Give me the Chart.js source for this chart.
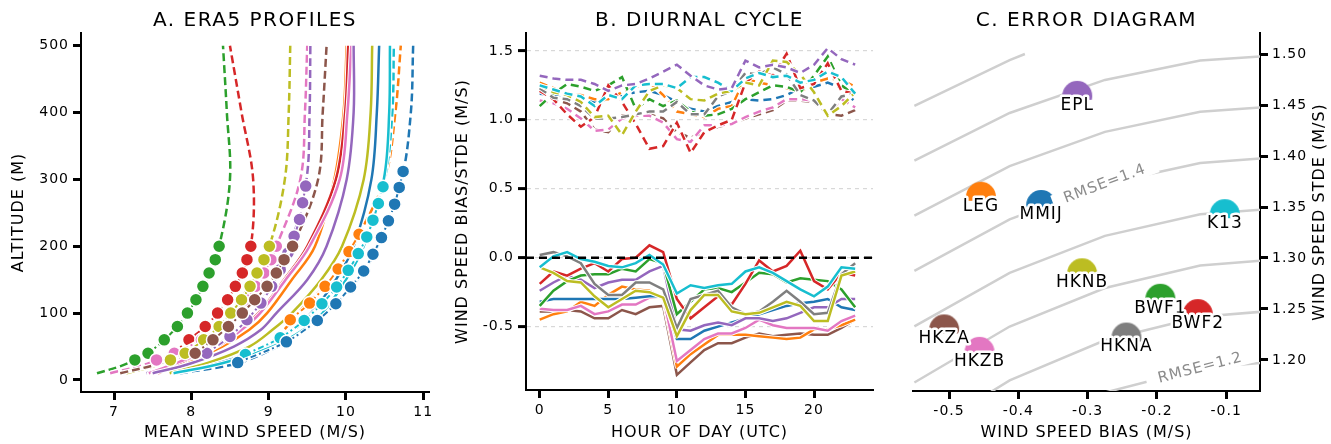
<!DOCTYPE html>
<html>
<head>
<meta charset="utf-8">
<script src="https://cdn.jsdelivr.net/npm/chart.js@4.4.0/dist/chart.umd.min.js"></script>
<style>
  body { margin: 0; background: #fff; }
  .panel { position: absolute; top: 0; height: 444px; }
</style>
</head>
<body>
<div class="panel" style="left:0;width:444px"><canvas id="chartA" width="444" height="444"></canvas></div>
<div class="panel" style="left:444px;width:444px"><canvas id="chartB" width="444" height="444"></canvas></div>
<div class="panel" style="left:888px;width:443px"><canvas id="chartC" width="443" height="444"></canvas></div>
<script>
// ---- panel A: ERA5 profiles (mean wind speed vs altitude) ----
const altitudes = [10, 25, 50, 75, 100, 150, 200, 300, 400, 500];
const speedTicks = [7, 8, 9, 10, 11];
const altitudeTicks = [0, 100, 200, 300, 400, 500];

const profGreenDash  = [6.78, 7.18, 7.55, 7.78, 7.95, 8.20, 8.36, 8.50, 8.46, 8.41];
const profRedDash    = [7.15, 7.50, 7.87, 8.14, 8.34, 8.62, 8.77, 8.80, 8.65, 8.50];
const profOliveDash  = [7.16, 7.62, 8.05, 8.31, 8.51, 8.80, 9.01, 9.21, 9.26, 9.28];
const profPinkDash   = [6.95, 7.45, 7.98, 8.33, 8.56, 8.90, 9.10, 9.41, 9.47, 9.50];
const profPurpleDash = [7.42, 7.85, 8.32, 8.60, 8.80, 9.08, 9.28, 9.49, 9.53, 9.54];
const profBrownDash  = [7.08, 7.60, 8.17, 8.43, 8.66, 9.05, 9.31, 9.64, 9.70, 9.75];
const profOrangeDash = [7.80, 8.45, 8.95, 9.20, 9.38, 9.80, 10.08, 10.50, 10.64, 10.71];
const profCyanDash   = [7.77, 8.45, 8.95, 9.32, 9.57, 9.95, 10.21, 10.50, 10.60, 10.62];
const profBlueDash   = [7.85, 8.60, 9.12, 9.47, 9.74, 10.15, 10.41, 10.72, 10.84, 10.87];

const profOrangeSolid = [7.50, 7.90, 8.40, 8.75, 8.98, 9.30, 9.60, 9.85, 9.97, 10.01];
const profRedSolid    = [7.57, 7.85, 8.30, 8.62, 8.87, 9.20, 9.50, 9.87, 9.99, 10.03];
const profPinkSolid   = [7.45, 7.80, 8.33, 8.65, 8.89, 9.22, 9.53, 9.92, 10.02, 10.07];
const profPurpleSolid = [7.50, 8.00, 8.55, 8.90, 9.10, 9.50, 9.75, 10.01, 10.10, 10.10];
const profOliveSolid  = [7.72, 8.20, 8.75, 9.05, 9.30, 9.68, 9.95, 10.23, 10.32, 10.34];
const profBlueSolid   = [7.80, 8.35, 8.95, 9.30, 9.55, 9.87, 10.10, 10.33, 10.40, 10.43];
const profCyanSolid   = [7.77, 8.40, 9.05, 9.45, 9.70, 10.00, 10.23, 10.49, 10.56, 10.57];

const obsGreenH  = [30, 40, 60, 80, 100, 120, 140, 160, 180, 200];
const obsGreenV  = [7.27, 7.44, 7.65, 7.82, 7.95, 8.06, 8.15, 8.23, 8.31, 8.36];
const obsRedH    = [40, 60, 80, 100, 120, 140, 160, 180, 200];
const obsRedV    = [7.77, 7.97, 8.18, 8.34, 8.47, 8.57, 8.66, 8.72, 8.77];
const obsPinkH   = [30, 40, 60, 80, 100, 120, 140, 160, 180, 200];
const obsPinkV   = [7.55, 7.78, 8.13, 8.38, 8.56, 8.71, 8.83, 8.94, 9.03, 9.10];
const obsOliveH  = [30, 40, 60, 80, 100, 120, 140, 160, 180, 200];
const obsOliveV  = [7.73, 7.92, 8.16, 8.36, 8.51, 8.65, 8.76, 8.85, 8.94, 9.01];
const obsPurpleH = [40, 65, 90, 115, 140, 165, 190, 215, 240, 265, 290];
const obsPurpleV = [8.20, 8.50, 8.72, 8.90, 9.04, 9.15, 9.25, 9.33, 9.40, 9.44, 9.48];
const obsBrownH  = [40, 60, 80, 100, 120, 140, 160, 180, 200];
const obsBrownV  = [8.05, 8.28, 8.48, 8.66, 8.82, 8.98, 9.10, 9.20, 9.31];
const obsOrangeH = [90, 115, 140, 166, 192, 218];
const obsOrangeV = [9.28, 9.53, 9.73, 9.90, 10.04, 10.17];
const obsCyanH   = [38, 63, 89, 114, 139, 164, 189, 214, 239, 264, 289];
const obsCyanV   = [8.70, 9.15, 9.46, 9.69, 9.88, 10.03, 10.16, 10.27, 10.35, 10.42, 10.48];
const obsBlueH   = [26, 57, 89, 114, 139, 163, 188, 213, 238, 263, 288, 312];
const obsBlueV   = [8.60, 9.23, 9.63, 9.87, 10.06, 10.23, 10.35, 10.46, 10.55, 10.63, 10.69, 10.74];

// ---- panel B: diurnal cycle of bias (solid) and stde (dashed) ----
const hours = [0, 1, 2, 3, 4, 5, 6, 7, 8, 9, 10, 11, 12, 13, 14, 15, 16, 17, 18, 19, 20, 21, 22, 23];
const hourTicks = [0, 5, 10, 15, 20];
const errTicksB = [-0.5, 0.0, 0.5, 1.0, 1.5];

const stdePurple = [1.32, 1.30, 1.29, 1.29, 1.26, 1.21, 1.25, 1.26, 1.30, 1.35, 1.40, 1.32, 1.25, 1.22, 1.23, 1.43, 1.38, 1.40, 1.38, 1.34, 1.40, 1.52, 1.44, 1.40];
const stdeCyan   = [1.25, 1.22, 1.19, 1.17, 1.10, 1.18, 1.15, 1.25, 1.26, 1.26, 1.23, 1.31, 1.31, 1.27, 1.21, 1.30, 1.34, 1.31, 1.32, 1.27, 1.29, 1.35, 1.31, 1.19];
const stdeOlive  = [1.25, 1.20, 1.18, 1.13, 1.02, 1.03, 0.89, 1.06, 1.21, 1.25, 1.23, 1.15, 1.14, 1.19, 1.21, 1.27, 1.25, 1.43, 1.42, 1.33, 1.20, 1.03, 1.10, 1.20];
const stdeGray   = [1.23, 1.16, 1.15, 1.10, 1.01, 1.01, 1.02, 1.04, 1.06, 1.06, 1.13, 1.04, 1.04, 1.17, 1.21, 1.34, 1.33, 1.38, 1.33, 1.18, 1.14, 1.04, 1.17, 1.19];
const stdeRed    = [1.21, 1.15, 1.04, 0.95, 1.02, 1.25, 1.13, 0.97, 0.79, 0.81, 0.98, 0.76, 0.91, 0.96, 1.00, 1.27, 1.35, 1.32, 1.48, 1.23, 1.26, 1.41, 1.21, 1.19];
const stdeGreen  = [1.10, 1.19, 1.26, 1.24, 1.21, 1.25, 1.31, 1.08, 1.15, 1.10, 1.14, 1.06, 1.03, 1.04, 1.08, 1.15, 1.20, 1.25, 1.24, 1.20, 1.32, 1.46, 1.25, 1.18];
const stdeOrange = [1.27, 1.23, 1.18, 1.18, 1.15, 1.15, 1.20, 1.24, 1.27, 1.18, 1.06, 1.04, 1.02, 1.08, 1.10, 1.30, 1.27, 1.25, 1.23, 1.20, 1.27, 1.30, 1.29, 1.24];
const stdeBlue   = [1.19, 1.18, 1.15, 1.18, 1.13, 1.15, 1.18, 1.20, 1.21, 1.18, 1.13, 1.08, 1.06, 1.10, 1.13, 1.15, 1.14, 1.15, 1.18, 1.23, 1.24, 1.27, 1.23, 1.13];
const stdePink   = [1.14, 1.12, 1.08, 1.01, 0.92, 0.93, 1.01, 1.03, 1.03, 0.98, 0.86, 0.84, 0.96, 0.96, 0.97, 1.02, 1.06, 1.09, 1.15, 1.15, 1.14, 1.04, 1.15, 1.09];
const stdeBrown  = [1.21, 1.15, 1.12, 1.06, 0.93, 0.91, 1.03, 1.03, 1.04, 1.01, 0.91, 0.87, 0.91, 0.95, 0.97, 1.01, 1.04, 1.07, 1.14, 1.14, 1.13, 1.04, 1.03, 1.07];

const biasBlue   = [-0.32, -0.30, -0.30, -0.30, -0.30, -0.30, -0.30, -0.29, -0.28, -0.28, -0.59, -0.59, -0.53, -0.50, -0.47, -0.44, -0.41, -0.38, -0.35, -0.33, -0.32, -0.30, -0.36, -0.38];
const biasOrange = [-0.45, -0.41, -0.39, -0.32, -0.35, -0.27, -0.21, -0.23, -0.24, -0.30, -0.79, -0.70, -0.63, -0.56, -0.56, -0.56, -0.57, -0.58, -0.59, -0.58, -0.52, -0.52, -0.49, -0.45];
const biasGreen  = [-0.35, -0.24, -0.17, -0.13, -0.12, -0.12, -0.08, -0.10, -0.01, -0.04, -0.41, -0.32, -0.23, -0.22, -0.25, -0.18, -0.11, -0.12, -0.18, -0.15, -0.16, -0.17, -0.23, -0.36];
const biasRed    = [-0.19, -0.10, -0.13, -0.08, -0.04, -0.10, -0.01, 0.00, 0.09, 0.04, -0.30, -0.44, -0.36, -0.28, -0.34, -0.19, -0.02, -0.10, -0.06, 0.05, -0.17, -0.23, -0.11, -0.13];
const biasPurple = [-0.24, -0.18, -0.13, -0.16, -0.22, -0.18, -0.16, -0.16, -0.10, -0.06, -0.52, -0.53, -0.49, -0.47, -0.49, -0.44, -0.44, -0.46, -0.44, -0.40, -0.36, -0.36, -0.30, -0.30];
const biasBrown  = [-0.39, -0.39, -0.38, -0.39, -0.44, -0.44, -0.38, -0.41, -0.36, -0.35, -0.85, -0.76, -0.67, -0.62, -0.62, -0.58, -0.55, -0.57, -0.56, -0.55, -0.56, -0.56, -0.51, -0.45];
const biasPink   = [-0.37, -0.38, -0.38, -0.35, -0.41, -0.39, -0.34, -0.34, -0.29, -0.28, -0.75, -0.67, -0.59, -0.55, -0.55, -0.51, -0.45, -0.49, -0.51, -0.51, -0.51, -0.53, -0.46, -0.42];
const biasGray   = [0.02, 0.04, 0.01, -0.04, -0.19, -0.27, -0.27, -0.18, -0.18, -0.23, -0.51, -0.30, -0.27, -0.24, -0.36, -0.41, -0.39, -0.32, -0.24, -0.32, -0.41, -0.40, -0.12, -0.04];
const biasOlive  = [-0.07, -0.11, -0.17, -0.18, -0.28, -0.36, -0.30, -0.24, -0.25, -0.29, -0.57, -0.38, -0.27, -0.27, -0.39, -0.41, -0.40, -0.36, -0.32, -0.35, -0.46, -0.46, -0.13, -0.10];
const biasCyan   = [-0.07, 0.01, 0.04, -0.01, -0.03, -0.06, -0.07, -0.04, 0.02, -0.05, -0.26, -0.20, -0.22, -0.20, -0.19, -0.10, -0.07, -0.11, -0.17, -0.23, -0.28, -0.21, -0.07, -0.08];

// ---- panel C: error diagram ----
const stations = ['EPL', 'LEG', 'MMIJ', 'K13', 'HKNB', 'BWF1', 'BWF2', 'HKNA', 'HKZA', 'HKZB'];
const stationBias = [-0.315, -0.454, -0.367, -0.102, -0.308, -0.195, -0.141, -0.244, -0.507, -0.456];
const stationStde = [1.459, 1.360, 1.352, 1.343, 1.285, 1.260, 1.245, 1.222, 1.230, 1.208];
const biasTicks = [-0.5, -0.4, -0.3, -0.2, -0.1];
const stdeTicks = [1.20, 1.25, 1.30, 1.35, 1.40, 1.45, 1.50];
const rmseLevels = [1.2, 1.25, 1.3, 1.35, 1.4, 1.45, 1.5, 1.55];
const rmseGridBias = [-0.55, -0.4125, -0.275, -0.1375, 0];
const rmseGridStdeTop = 1.5;
const rmseLabelLevels = [1.4, 1.2];
const rmseLabelBias = [-0.275, -0.1375];

// tab10 colours
const BLUE = '#1f77b4', ORANGE = '#ff7f0e', GREEN = '#2ca02c', RED = '#d62728', PURPLE = '#9467bd';
const BROWN = '#8c564b', PINK = '#e377c2', GRAY = '#7f7f7f', OLIVE = '#bcbd22', CYAN = '#17becf';
const stationColors = [PURPLE, ORANGE, BLUE, CYAN, OLIVE, GREEN, RED, GRAY, BROWN, PINK];

const FONT = '"DejaVu Sans", sans-serif';
Chart.defaults.font.family = FONT;
Chart.defaults.color = '#000';

// wider hand-lettered look
const spacing = {
  id: 'spacing',
  beforeDraw(chart) { chart.ctx.letterSpacing = '1px'; }
};

// white outline under each line, like the xkcd path effect
const haloPlugin = {
  id: 'halo',
  beforeDatasetDraw(chart, args) {
    const ds = chart.data.datasets[args.index];
    if (!ds.halo) return;
    const line = args.meta.dataset;
    const ctx = chart.ctx, a = chart.chartArea;
    ctx.save();
    ctx.beginPath();
    ctx.rect(a.left, a.top, a.right - a.left, a.bottom - a.top);
    ctx.clip();
    ctx.beginPath();
    line.path(ctx);
    ctx.strokeStyle = '#fff';
    ctx.lineWidth = ds.borderWidth + 2;
    ctx.lineJoin = 'round';
    ctx.lineCap = 'round';
    ctx.stroke();
    ctx.restore();
  }
};

function panelTitle(text) {
  return {
    id: 'panelTitle',
    afterDraw(chart) {
      const { ctx, chartArea: a } = chart;
      ctx.save();
      ctx.font = '20px ' + FONT;
      ctx.letterSpacing = '1.5px';
      ctx.fillStyle = '#000';
      ctx.textAlign = 'center';
      ctx.textBaseline = 'middle';
      ctx.fillText(text, (a.left + a.right) / 2, 21);
      ctx.restore();
    }
  };
}

function fixedTicks(values) {
  return scale => { scale.ticks = values.map(v => ({ value: v })); };
}

function axis(opts) {
  return Object.assign({
    type: 'linear',
    grid: { drawOnChartArea: false, tickLength: 8, tickWidth: 3, tickColor: '#000' },
    border: { color: '#000', width: 2 },
    ticks: { color: '#000', font: { size: 14 }, padding: 4, maxRotation: 0, autoSkip: false }
  }, opts);
}

function axisTitle(text, padding) {
  return { display: true, text: text, color: '#000', font: { size: 16 }, padding: padding };
}

function profile(values, color, dash) {
  return {
    data: altitudes.map((h, i) => ({ x: values[i], y: h })),
    borderColor: color, borderWidth: 2.5, borderDash: dash,
    pointRadius: 0, tension: 0.35, halo: true
  };
}

function obs(heights, values, color) {
  return {
    data: heights.map((h, i) => ({ x: values[i], y: h })),
    borderColor: color, borderWidth: 2, borderDash: [6, 3, 2, 3],
    pointRadius: 6.5, pointBackgroundColor: color, pointBorderColor: '#fff', pointBorderWidth: 1.5,
    tension: 0.3, halo: true
  };
}

// Chart.js paints the first dataset on top, so lists are reversed to paint in list order
function inPaintOrder(list) { return list.slice().reverse(); }

const DASH = [8, 4];
const datasetsA = [
  profile(profGreenDash, GREEN, DASH),
  profile(profRedDash, RED, DASH),
  profile(profOliveDash, OLIVE, DASH),
  profile(profPinkDash, PINK, DASH),
  profile(profPurpleDash, PURPLE, DASH),
  profile(profBrownDash, BROWN, DASH),
  profile(profOrangeDash, ORANGE, DASH),
  profile(profCyanDash, CYAN, DASH),
  profile(profBlueDash, BLUE, DASH),
  profile(profOrangeSolid, ORANGE, []),
  profile(profRedSolid, RED, []),
  profile(profPinkSolid, PINK, []),
  profile(profPurpleSolid, PURPLE, []),
  profile(profOliveSolid, OLIVE, []),
  profile(profBlueSolid, BLUE, []),
  profile(profCyanSolid, CYAN, []),
  obs(obsGreenH, obsGreenV, GREEN),
  obs(obsRedH, obsRedV, RED),
  obs(obsPinkH, obsPinkV, PINK),
  obs(obsOliveH, obsOliveV, OLIVE),
  obs(obsPurpleH, obsPurpleV, PURPLE),
  obs(obsBrownH, obsBrownV, BROWN),
  obs(obsOrangeH, obsOrangeV, ORANGE),
  obs(obsCyanH, obsCyanV, CYAN),
  obs(obsBlueH, obsBlueV, BLUE)
];

const common = {
  responsive: false,
  animation: false,
  events: [],
  plugins: { legend: { display: false }, tooltip: { enabled: false } }
};

new Chart(document.getElementById('chartA'), {
  type: 'line',
  data: { datasets: inPaintOrder(datasetsA) },
  options: Object.assign({}, common, {
    layout: { padding: { left: 0, right: 15, top: 33, bottom: 0 } },
    scales: {
      x: axis({
        min: 6.573, max: 11.075,
        afterBuildTicks: fixedTicks(speedTicks),
        afterFit: s => { s.height = 52; },
        title: axisTitle('MEAN WIND SPEED (M/S)', { top: 0, bottom: 2 })
      }),
      y: axis({
        min: -18, max: 519,
        afterBuildTicks: fixedTicks(altitudeTicks),
        afterFit: s => { s.width = 81; },
        title: axisTitle('ALTITUDE (M)', { top: 9, bottom: 0 })
      })
    }
  }),
  plugins: [spacing, haloPlugin, panelTitle('A. ERA5 PROFILES')]
});

// ---- chart B ----
function hourly(values, color, dash) {
  return {
    data: hours.map((h, i) => ({ x: h, y: values[i] })),
    borderColor: color, borderWidth: 2.5, borderDash: dash, pointRadius: 0, halo: true
  };
}
const DASH_B = [8, 5];
const datasetsB = [
  hourly(stdeBrown, BROWN, DASH_B),
  hourly(stdePink, PINK, DASH_B),
  hourly(stdeBlue, BLUE, DASH_B),
  hourly(stdeOrange, ORANGE, DASH_B),
  hourly(stdeGreen, GREEN, DASH_B),
  hourly(stdeRed, RED, DASH_B),
  hourly(stdeGray, GRAY, DASH_B),
  hourly(stdeOlive, OLIVE, DASH_B),
  hourly(stdeCyan, CYAN, DASH_B),
  hourly(stdePurple, PURPLE, DASH_B),
  hourly(biasBrown, BROWN, []),
  hourly(biasOrange, ORANGE, []),
  hourly(biasPink, PINK, []),
  hourly(biasBlue, BLUE, []),
  hourly(biasPurple, PURPLE, []),
  hourly(biasGreen, GREEN, []),
  hourly(biasRed, RED, []),
  hourly(biasGray, GRAY, []),
  hourly(biasOlive, OLIVE, []),
  hourly(biasCyan, CYAN, [])
];

const zeroLine = {
  id: 'zeroLine',
  afterDatasetsDraw(chart) {
    const { ctx, chartArea: a, scales } = chart;
    const y = scales.y.getPixelForValue(0);
    ctx.save();
    ctx.strokeStyle = '#000';
    ctx.lineWidth = 2.5;
    ctx.setLineDash([8, 5]);
    ctx.beginPath();
    ctx.moveTo(a.left, y);
    ctx.lineTo(a.right, y);
    ctx.stroke();
    ctx.restore();
  }
};

new Chart(document.getElementById('chartB'), {
  type: 'line',
  data: { datasets: inPaintOrder(datasetsB) },
  options: Object.assign({}, common, {
    layout: { padding: { left: 0, right: 15, top: 33, bottom: 0 } },
    scales: {
      x: axis({
        min: -1.0, max: 24.3,
        afterBuildTicks: fixedTicks(hourTicks),
        afterFit: s => { s.height = 54; },
        title: axisTitle('HOUR OF DAY (UTC)', { top: 0, bottom: 2 })
      }),
      y: axis({
        min: -0.96, max: 1.63,
        afterBuildTicks: fixedTicks(errTicksB),
        afterFit: s => { s.width = 82; },
        grid: { drawOnChartArea: true, color: '#d8d8d8', lineWidth: 1.2, tickLength: 8, tickWidth: 3, tickColor: '#000', tickBorderDash: [] },
        border: { color: '#000', width: 2, dash: [4, 4] },
        ticks: { color: '#000', font: { size: 14 }, padding: 4, callback: v => v.toFixed(1) },
        title: axisTitle('WIND SPEED BIAS/STDE (M/S)', { top: 9, bottom: 0 })
      })
    }
  }),
  plugins: [spacing, haloPlugin, zeroLine, panelTitle('B. DIURNAL CYCLE')]
});

// ---- chart C ----
function capMarker(color, r) {
  const c = document.createElement('canvas');
  c.width = c.height = 2 * r + 2;
  const g = c.getContext('2d');
  g.beginPath();
  g.rect(0, 0, c.width, r + 1 + 4);
  g.clip();
  g.beginPath();
  g.arc(r + 1, r + 1, r, 0, Math.PI * 2);
  g.fillStyle = color;
  g.fill();
  return c;
}

// rmse contours on the coarse bias grid, stopping at the top of the stde grid
function contour(level) {
  const pts = [];
  rmseGridBias.forEach(b => {
    const s = Math.sqrt(level * level - b * b);
    if (s <= rmseGridStdeTop) pts.push({ x: b, y: s });
  });
  if (level > rmseGridStdeTop) {
    pts.push({ x: -Math.sqrt(level * level - rmseGridStdeTop * rmseGridStdeTop), y: rmseGridStdeTop });
  }
  return pts;
}

const datasetsC = rmseLevels.map(level => ({
  data: contour(level),
  borderColor: '#cfcfcf', borderWidth: 2.5, pointRadius: 0, halo: false
}));
datasetsC.push({
  data: stations.map((s, i) => ({ x: stationBias[i], y: stationStde[i] })),
  showLine: false,
  pointRadius: 15,
  pointStyle: stationColors.map(c => capMarker(c, 15)),
  halo: false,
  markers: true
});

const errorLabels = {
  id: 'errorLabels',
  afterDatasetsDraw(chart) {
    const { ctx, scales } = chart;
    const sx = scales.x, sy = scales.y;
    ctx.save();
    // rmse contour labels, aligned with the contour segment that ends at the label
    ctx.font = '15px ' + FONT;
    ctx.textAlign = 'center';
    ctx.textBaseline = 'middle';
    rmseLabelLevels.forEach((level, i) => {
      const b = rmseLabelBias[i];
      const p = v => ({ x: sx.getPixelForValue(v), y: sy.getPixelForValue(Math.sqrt(level * level - v * v)) });
      const c = p(b), p0 = p(b - 0.1375);
      const ang = Math.atan2(c.y - p0.y, c.x - p0.x);
      const text = 'RMSE=' + level;
      const w = ctx.measureText(text).width;
      ctx.save();
      ctx.translate(c.x, c.y);
      ctx.rotate(ang);
      ctx.fillStyle = '#fff';
      ctx.fillRect(-w / 2 - 12, -8, w + 24, 16);
      ctx.fillStyle = '#8c8c8c';
      ctx.fillText(text, 0, 0);
      ctx.restore();
    });
    // station names under the markers
    const idx = chart.data.datasets.findIndex(d => d.markers);
    const meta = chart.getDatasetMeta(idx);
    ctx.font = '17px ' + FONT;
    ctx.textBaseline = 'top';
    ctx.lineJoin = 'round';
    meta.data.forEach((pt, i) => {
      ctx.strokeStyle = '#fff';
      ctx.lineWidth = 5;
      ctx.strokeText(stations[i], pt.x, pt.y + 1);
      ctx.fillStyle = '#000';
      ctx.fillText(stations[i], pt.x, pt.y + 1);
    });
    // right-hand axis title, reading bottom to top
    const a = chart.chartArea;
    ctx.font = '16px ' + FONT;
    ctx.textAlign = 'center';
    ctx.textBaseline = 'middle';
    ctx.translate(chart.width - 11, (a.top + a.bottom) / 2);
    ctx.rotate(-Math.PI / 2);
    ctx.fillText('WIND SPEED STDE (M/S)', 0, 0);
    ctx.restore();
  }
};

// markers listed last so they paint over the contours
new Chart(document.getElementById('chartC'), {
  type: 'line',
  data: { datasets: inPaintOrder(datasetsC) },
  options: Object.assign({}, common, {
    layout: { padding: { left: 25, right: 0, top: 33, bottom: 0 } },
    scales: {
      x: axis({
        min: -0.552, max: -0.0512,
        afterBuildTicks: fixedTicks(biasTicks),
        afterFit: s => { s.height = 53; },
        ticks: { color: '#000', font: { size: 14 }, padding: 4, callback: v => v.toFixed(1) },
        title: axisTitle('WIND SPEED BIAS (M/S)', { top: 0, bottom: 2 })
      }),
      y: axis({
        position: 'right',
        min: 1.1696, max: 1.5206,
        afterBuildTicks: fixedTicks(stdeTicks),
        afterFit: s => { s.width = 71; },
        ticks: { color: '#000', font: { size: 14 }, padding: 4, callback: v => v.toFixed(2) }
      })
    }
  }),
  plugins: [spacing, haloPlugin, errorLabels, panelTitle('C. ERROR DIAGRAM')]
});
</script>
</body>
</html>
